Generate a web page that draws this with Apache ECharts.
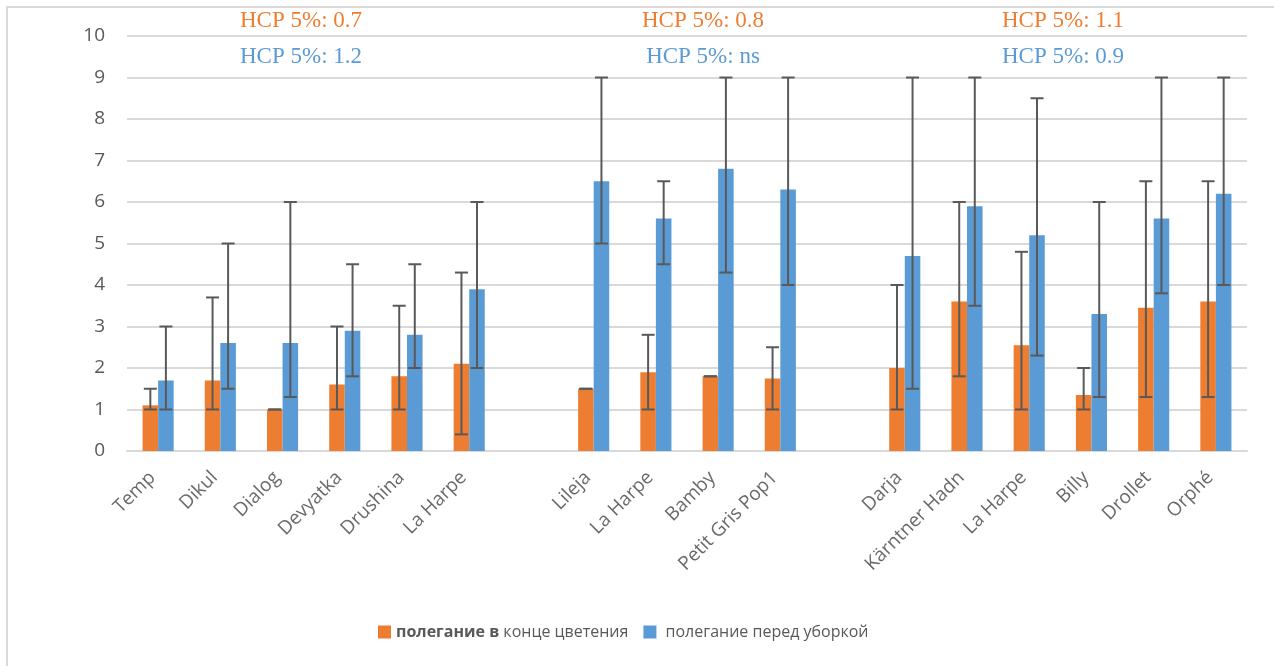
<!DOCTYPE html>
<html>
<head>
<meta charset="utf-8">
<script src="https://cdn.jsdelivr.net/npm/echarts@6/dist/echarts.min.js"></script>
<style>
  html, body { margin: 0; padding: 0; background: #fff; }
  #chart { width: 1274px; height: 666px; }
</style>
</head>
<body>
<div id="chart"></div>
<script>
// Varieties in three groups; empty strings separate the groups on the axis
const categories = ['Temp', 'Dikul', 'Dialog', 'Devyatka', 'Drushina', 'La Harpe', '',
  'Lileja', 'La Harpe', 'Bamby', 'Petit Gris Pop1', '',
  'Darja', 'Kärntner Hadn', 'La Harpe', 'Billy', 'Drollet', 'Orphé'];

// Lodging score at the end of flowering, with its range
const floweringEnd  = [1.1, 1.7, 1.0, 1.6, 1.8, 2.1, null, 1.5, 1.9, 1.8, 1.75, null, 2.0, 3.6, 2.55, 1.35, 3.45, 3.6];
const floweringLow  = [1.0, 1.0, 1.0, 1.0, 1.0, 0.4, null, 1.5, 1.0, 1.8, 1.0, null, 1.0, 1.8, 1.0, 1.0, 1.3, 1.3];
const floweringHigh = [1.5, 3.7, 1.0, 3.0, 3.5, 4.3, null, 1.5, 2.8, 1.8, 2.5, null, 4.0, 6.0, 4.8, 2.0, 6.5, 6.5];

// Lodging score before harvest, with its range
const preHarvest     = [1.7, 2.6, 2.6, 2.9, 2.8, 3.9, null, 6.5, 5.6, 6.8, 6.3, null, 4.7, 5.9, 5.2, 3.3, 5.6, 6.2];
const preHarvestLow  = [1.0, 1.5, 1.3, 1.8, 2.0, 2.0, null, 5.0, 4.5, 4.3, 4.0, null, 1.5, 3.5, 2.3, 1.3, 3.8, 4.0];
const preHarvestHigh = [3.0, 5.0, 6.0, 4.5, 4.5, 6.0, null, 9.0, 6.5, 9.0, 9.0, null, 9.0, 9.0, 8.5, 6.0, 9.0, 9.0];

// Least significant differences for each group
const lsdFlowering = ['НСР 5%: 0.7', 'НСР 5%: 0.8', 'НСР 5%: 1.1'];
const lsdHarvest   = ['НСР 5%: 1.2', 'НСР 5%: ns', 'НСР 5%: 0.9'];

const yTicks = [0, 10, 1]; // min, max, step

const seriesNames = ['полегание в конце цветения', 'полегание перед уборкой'];
const ORANGE = '#ED7D31';
const BLUE = '#5B9BD5';
const GREY = '#595959';

function rangeData(low, high) {
  const out = [];
  for (let i = 0; i < categories.length; i++) {
    if (low[i] != null) out.push([i, low[i], high[i]]);
  }
  return out;
}

// Whisker with caps, shifted onto the left (-1) or right (+1) bar of the pair
function errorBar(side) {
  return function (params, api) {
    const idx = api.value(0);
    const band = api.size([1, 0])[0];
    const shift = side * band * 0.125;
    const lo = api.coord([idx, api.value(1)]);
    const hi = api.coord([idx, api.value(2)]);
    const x = lo[0] + shift;
    const half = 6.5;
    const style = { stroke: GREY, lineWidth: 2 };
    return {
      type: 'group',
      children: [
        { type: 'line', shape: { x1: x, y1: lo[1], x2: x, y2: hi[1] }, style: style },
        { type: 'line', shape: { x1: x - half, y1: lo[1], x2: x + half, y2: lo[1] }, style: style },
        { type: 'line', shape: { x1: x - half, y1: hi[1], x2: x + half, y2: hi[1] }, style: style }
      ]
    };
  };
}

const chart = echarts.init(document.getElementById('chart'));

const annX = [301, 703, 1063];
const graphics = [{
  type: 'rect',
  shape: { x: 7, y: 7, width: 1290, height: 680 },
  style: { fill: 'none', stroke: '#d9d9d9', lineWidth: 2 },
  silent: true
}];
for (let g = 0; g < 3; g++) {
  graphics.push({
    type: 'text', x: annX[g], y: 21,
    style: { text: lsdFlowering[g], fill: ORANGE, font: '23px "Liberation Serif"', textAlign: 'center', textVerticalAlign: 'middle' }
  });
  graphics.push({
    type: 'text', x: annX[g], y: 57,
    style: { text: lsdHarvest[g], fill: BLUE, font: '23px "Liberation Serif"', textAlign: 'center', textVerticalAlign: 'middle' }
  });
}

chart.setOption({
  animation: false,
  backgroundColor: '#fff',
  grid: { left: 127, right: 27, top: 36, bottom: 215, containLabel: false },
  legend: {
    data: seriesNames,
    top: 619,
    left: 373,
    icon: 'rect',
    itemWidth: 13,
    itemHeight: 13,
    itemGap: 15,
    formatter: function (name) {
      return name === seriesNames[0] ? '{b|полегание в} конце цветения' : ' ' + name;
    },
    textStyle: {
      color: GREY, fontFamily: 'Open Sans', fontSize: 16,
      rich: { b: { fontWeight: 'bold', color: GREY, fontFamily: 'Open Sans', fontSize: 16 } }
    }
  },
  xAxis: {
    type: 'category',
    data: categories,
    axisLine: { lineStyle: { color: '#d9d9d9', width: 2 } },
    axisTick: { show: false },
    axisLabel: {
      rotate: 45, interval: 0, color: '#6a6a6a', fontFamily: 'Open Sans', fontSize: 19,
      margin: 18, padding: [0, 8, 0, 0]
    }
  },
  yAxis: {
    type: 'value',
    min: yTicks[0], max: yTicks[1], interval: yTicks[2],
    axisLine: { show: false },
    axisTick: { show: false },
    axisLabel: { color: GREY, fontFamily: 'Open Sans', fontSize: 19, margin: 22 },
    splitLine: { lineStyle: { color: '#d9d9d9', width: 2 } }
  },
  series: [
    {
      name: seriesNames[0], type: 'bar', data: floweringEnd,
      itemStyle: { color: ORANGE }, barGap: '0%', barCategoryGap: '50%'
    },
    {
      name: seriesNames[1], type: 'bar', data: preHarvest,
      itemStyle: { color: BLUE }, barGap: '0%', barCategoryGap: '50%'
    },
    {
      type: 'custom', renderItem: errorBar(-1), data: rangeData(floweringLow, floweringHigh),
      encode: { x: 0, y: [1, 2] }, z: 5
    },
    {
      type: 'custom', renderItem: errorBar(1), data: rangeData(preHarvestLow, preHarvestHigh),
      encode: { x: 0, y: [1, 2] }, z: 5
    }
  ],
  graphic: graphics
});
</script>
</body>
</html>
